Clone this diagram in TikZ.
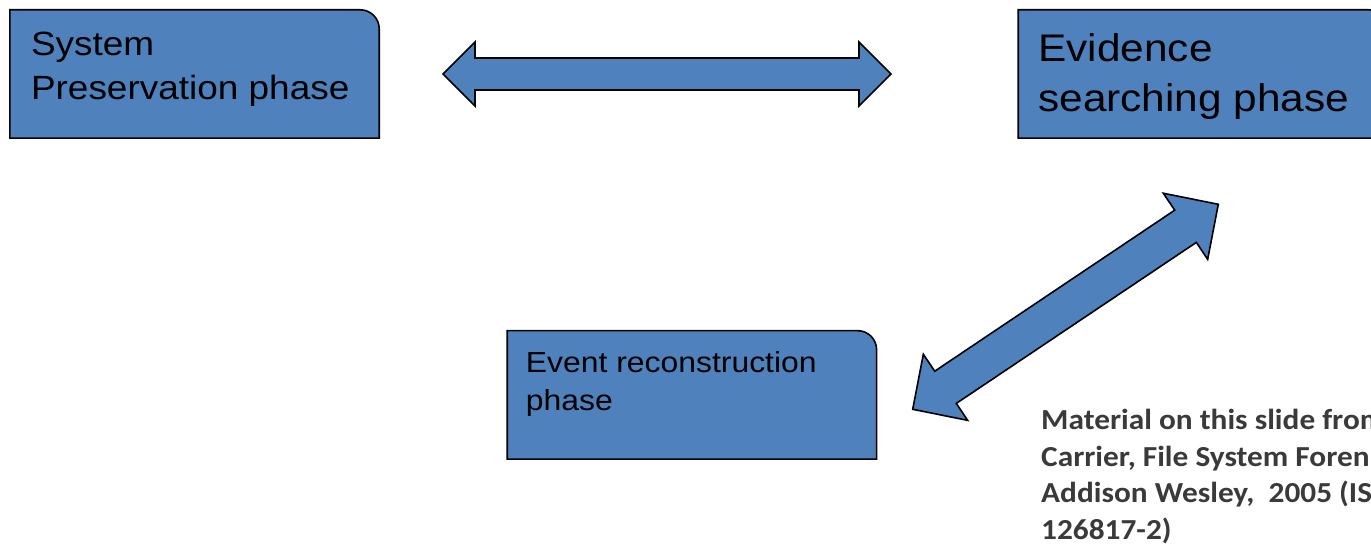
\documentclass[tikz,border=0pt]{standalone}
\usepackage{fontspec}
\setmainfont{Liberation Sans}
\newfontfamily\boxfont[FakeStretch=1.1]{Liberation Sans}
\newfontfamily\notefont[FakeStretch=1.08]{Carlito}
\usetikzlibrary{calc,positioning}
\definecolor{Steel}{HTML}{4F81BD}
\definecolor{Ink}{HTML}{3A3A3A}
\tikzset{
  phasebox/.style={rectangle,minimum width=369pt,minimum height=128pt,inner sep=0pt,draw=none},
  phaseline/.style={draw=black,fill=Steel,line width=1.6pt,line join=miter},
  phasetext/.style={anchor=north west,inner sep=0pt,align=left,text=black},
  blockarrow/.style={draw=black,fill=Steel,line width=1.6pt,line join=miter},
  notetext/.style={anchor=north west,inner sep=0pt,align=left,text=Ink,
    font=\notefont\bfseries\fontsize{29}{36.7}\selectfont},
}
% box outline, only the top right corner is rounded
\newcommand{\phaseoutline}[1]{%
  \draw[phaseline] (#1.south west) -- (#1.north west) -- ([xshift=-19pt]#1.north east)
    arc[start angle=90,end angle=0,radius=19pt] -- (#1.south east) -- cycle;}
% block arrow with two heads: from, to, half shaft, half head, head length
\newcommand{\phasearrow}[5]{%
  \path ($(#1)!#5!(#2)$) coordinate (#1-h) ($(#2)!#5!(#1)$) coordinate (#2-h);
  \draw[blockarrow] (#1) -- ($(#1-h)!#4!-90:(#2)$) -- ($(#1-h)!#3!-90:(#2)$)
    -- ($(#2-h)!#3!90:(#1)$) -- ($(#2-h)!#4!90:(#1)$) -- (#2)
    -- ($(#2-h)!#4!-90:(#1)$) -- ($(#2-h)!#3!-90:(#1)$)
    -- ($(#1-h)!#3!90:(#2)$) -- ($(#1-h)!#4!90:(#2)$) -- cycle;}

\begin{document}
\begin{tikzpicture}[x=1pt,y=-1pt]
    \useasboundingbox (0,0) rectangle (1371,545);
    \clip (0,0) rectangle (1371,545);

    \node[phasebox] (pres) at (194.5,74) {};
    \node[phasebox,right=639pt of pres] (evid) {};
    \node[phasebox,below right=192.5pt and 128pt of pres] (event) {};
    \phaseoutline{pres}
    \phaseoutline{evid}
    \phaseoutline{event}

    \node[phasetext,font=\boxfont\fontsize{33.6}{44}\selectfont] (pres-text)
      at ([xshift=21pt,yshift=-22pt]pres.north west) {System\\Preservation phase};
    \node[phasetext,font=\boxfont\fontsize{38.5}{50}\selectfont] (evid-text)
      at ([xshift=20pt,yshift=-24pt]evid.north west) {Evidence\\searching phase};
    \node[phasetext,font=\boxfont\fontsize{29}{38}\selectfont] (event-text)
      at ([xshift=18.5pt,yshift=-21pt]event.north west) {Event reconstruction\\phase};

    \coordinate (pe-l) at (443,74);
    \coordinate (pe-r) at (891,74);
    \coordinate (ee-l) at (912.7,409.3);
    \coordinate (ee-r) at (1218.3,204.3);
    \phasearrow{pe-l}{pe-r}{16pt}{32pt}{32pt}
    \phasearrow{ee-l}{ee-r}{19.4pt}{39.8pt}{39.5pt}

    \node[notetext] (note) at (1041,409) {Material on this slide from\\Carrier, File System Foren\\Addison Wesley,~ 2005 (IS\\126817-2)};
  \end{tikzpicture}
\end{document}
